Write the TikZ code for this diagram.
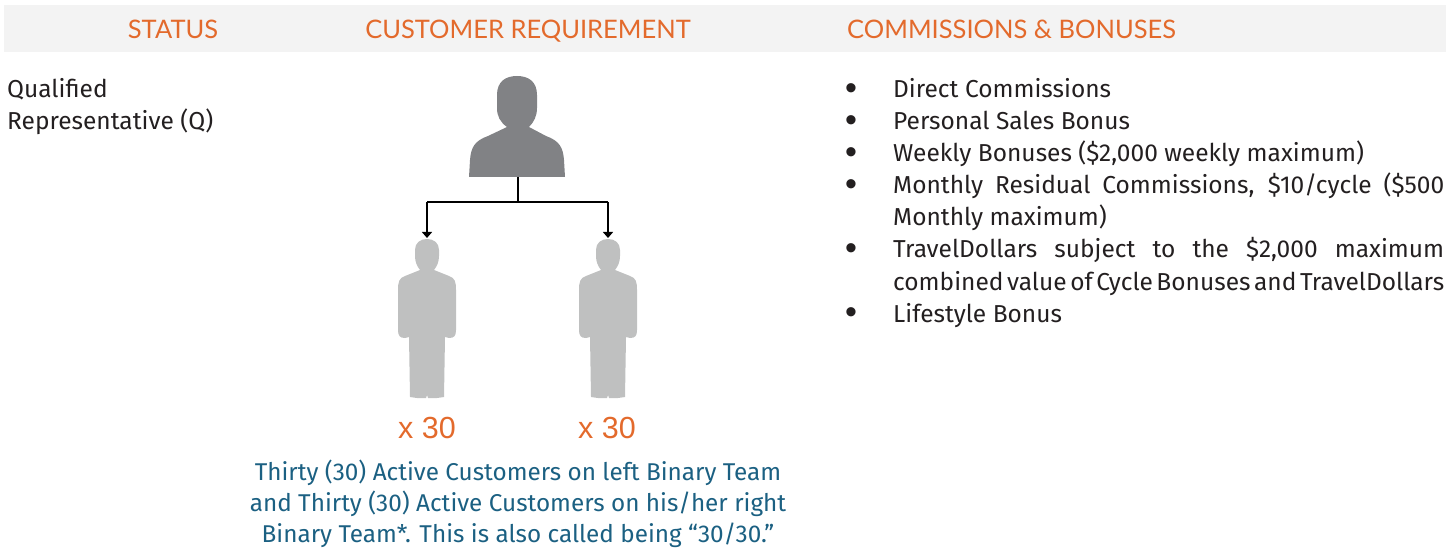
\documentclass[tikz,border=0pt]{standalone}
\usepackage{fontspec}
\setmainfont{Fira Sans}
\newfontfamily\headfont{Lato}
\newfontfamily\arialfont{Liberation Sans}
\definecolor{hdrorange}{HTML}{E36A2C}
\definecolor{bandgray}{HTML}{F3F3F3}
\definecolor{bigperson}{HTML}{818285}
\definecolor{smallperson}{HTML}{BFC0C0}
\definecolor{tealtext}{HTML}{1B6082}
\definecolor{bodytext}{HTML}{231F20}
\tikzset{
  hdr/.style={inner sep=0pt, anchor=base, text=hdrorange, font=\headfont\fontsize{25.5}{25.5}\selectfont},
  body/.style={inner sep=0pt, anchor=base west, text=bodytext, font=\fontsize{24.5}{32}\selectfont},
  bul/.style={inner sep=0pt, anchor=center, text=bodytext, font=\arialfont\fontsize{34}{34}\selectfont},
  countlbl/.style={inner sep=0pt, anchor=base, text=hdrorange, font=\arialfont\fontsize{30.5}{30.5}\selectfont},
  note/.style={inner sep=0pt, anchor=base, text=tealtext, font=\fontsize{24.3}{31}\selectfont, align=center},
  conn/.style={draw=black, line width=1.3pt},
  arr/.style={conn, -{Triangle[width=10pt,length=6pt]}},
}
\usetikzlibrary{arrows.meta}
\begin{document}
\begin{tikzpicture}[x=1pt,y=-1pt]
\useasboundingbox (0,0) rectangle (1455,553);
% header band
\fill[bandgray] (4,5) rectangle (1446,52);
\node[hdr] (hstatus) at (173,39) {STATUS};
\node[hdr] (hcust) at (528,39) {CUSTOMER REQUIREMENT};
\node[hdr, anchor=base west] (hcomm) at (847,39) {COMMISSIONS \& BONUSES};
% status
\node[body] (st1) at (7,98) {Qualified};
\node[body] (st2) at (7,130) {Representative (Q)};
% big person
\fill[bigperson] (507,127) -- (488,136) .. controls (474,141) and (471,148) .. (470,160) -- (469,177) -- (565,177) -- (564,160) .. controls (563,148) and (560,141) .. (546,136) -- (529,127) .. controls (534,122) and (537,116) .. (537,108) -- (537,95) .. controls (537,82) and (529,76) .. (517,76) .. controls (505,76) and (497,82) .. (497,95) -- (497,108) .. controls (497,116) and (500,122) .. (507,127) -- cycle;
\coordinate (top) at (518,177);
\coordinate (split) at (518,202);
\coordinate (lcorner) at (427,202);
\coordinate (rcorner) at (608,202);
\coordinate (lhead) at (427,238);
\coordinate (rhead) at (608,238);
\draw[conn] (top) -- (split);
\draw[conn] (lcorner) -- (rcorner);
\draw[arr] (lcorner) -- (lhead);
\draw[arr] (rcorner) -- (rhead);
% small persons
\foreach \cx/\nm in {427/lp, 608/rp}{
\begin{scope}[shift={(\cx,0)}]
\fill[smallperson] (-7,270) -- (-22,276) .. controls (-28,278) and (-29,282) .. (-29,290) -- (-29,330) .. controls (-29,336) and (-27,338) .. (-22,338) -- (-18,337) -- (-17,397) -- (-10,398) -- (-1,398) -- (0,395) -- (1,398) -- (10,398) -- (17,397) -- (18,337) -- (22,338) .. controls (27,338) and (29,336) .. (29,330) -- (29,290) .. controls (29,282) and (28,278) .. (22,276) -- (7,270) .. controls (10,266) and (12,262) .. (12,256) -- (12,250) .. controls (12,243) and (7,239) .. (0,239) .. controls (-7,239) and (-12,243) .. (-12,250) -- (-12,256) .. controls (-12,262) and (-10,266) .. (-7,270) -- cycle;
\end{scope}
}
\node[countlbl] (lcount) at (427,438) {x 30};
\node[countlbl] (rcount) at (607,438) {x 30};
\node[note, anchor=base] (n1) at (518,480) {Thirty (30) Active Customers on left Binary Team};
\node[note, anchor=base] (n2) at (518,511) {and Thirty (30) Active Customers on his/her right};
\node[note, anchor=base] (n3) at (518,542) {Binary Team*. This is also called being “30/30.”};
% list
\foreach \y in {92,124,156,188,252,316}{
  \node[bul] at (851,\y) {•};
}
\node[body] (l1) at (893,98) {Direct Commissions};
\node[body] (l2) at (893,130) {Personal Sales Bonus};
\node[body] (l3) at (893,162) {Weekly Bonuses (\$2,000 weekly maximum)};
\node[body] (l4a) at (893,194) {\makebox[551pt][s]{Monthly Residual Commissions, \$10/cycle (\$500}};
\node[body] (l4b) at (893,226) {Monthly maximum)};
\node[body] (l5a) at (893,258) {\makebox[551pt][s]{TravelDollars subject to the \$2,000 maximum}};
\node[body] (l5b) at (893,290) {\spaceskip=0.25em plus 1fil minus 0.25em\makebox[551pt][s]{combined value of Cycle Bonuses and TravelDollars}};
\node[body] (l6) at (893,322) {Lifestyle Bonus};
\end{tikzpicture}
\end{document}
